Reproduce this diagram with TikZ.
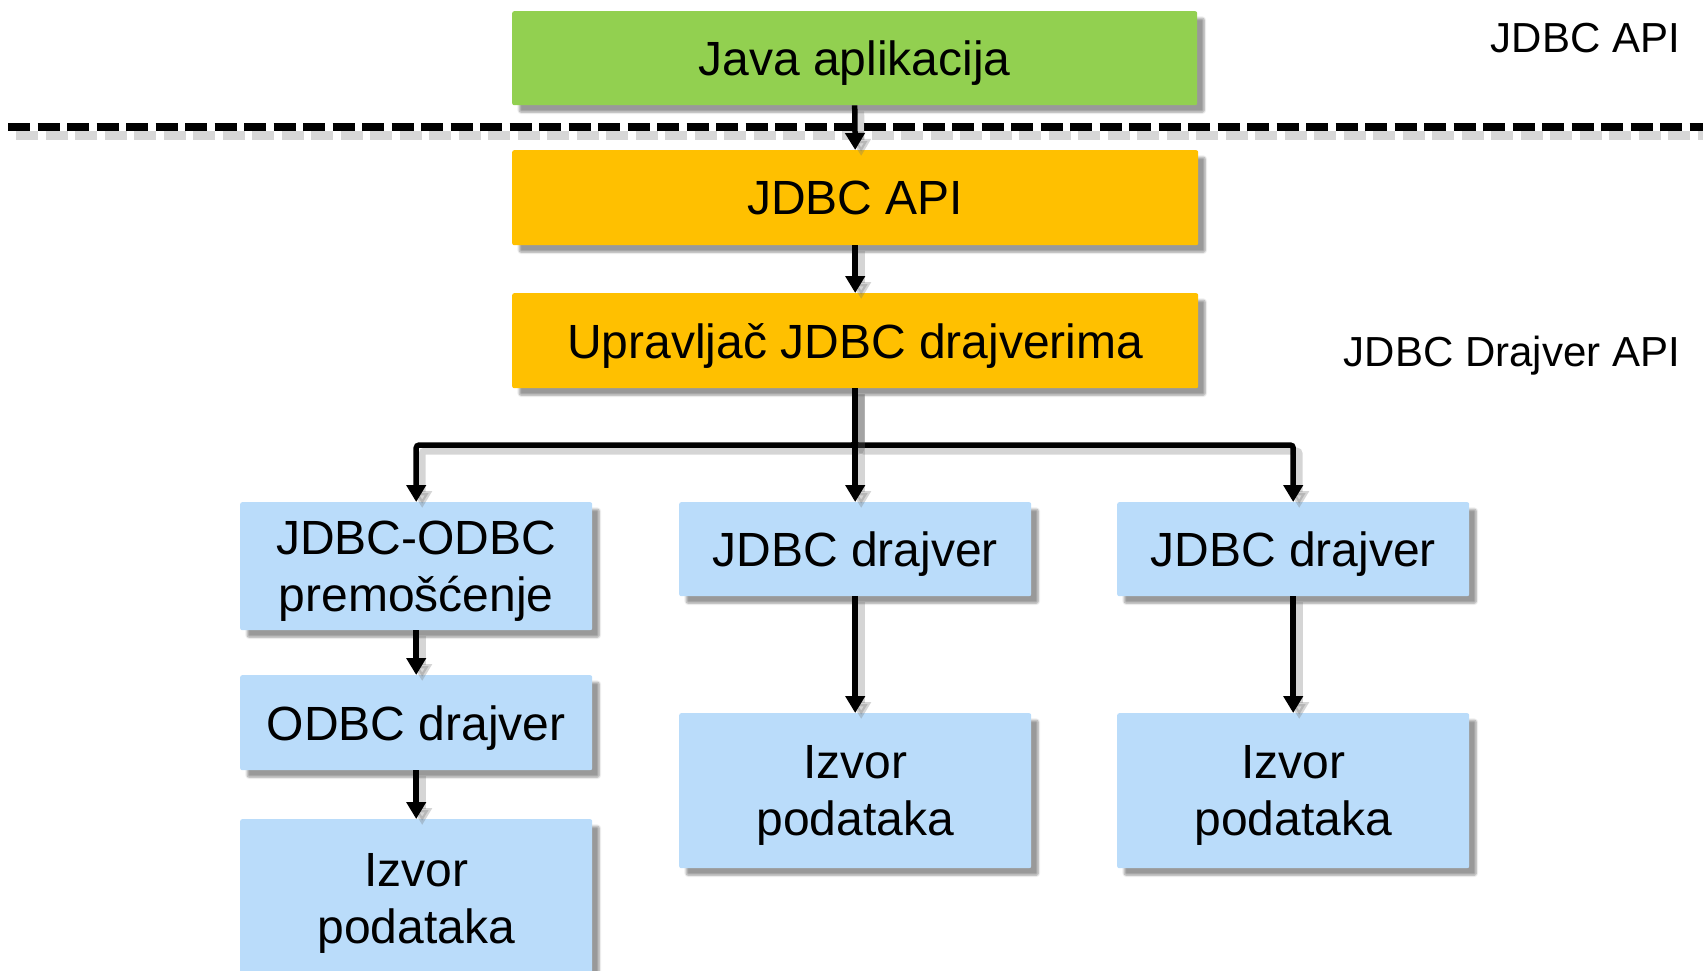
\documentclass[tikz,border=0pt]{standalone}
\usepackage{fontspec}
\setmainfont{Liberation Sans}
\usetikzlibrary{arrows.meta,shadows,shadows.blur}
\definecolor{appgreen}{HTML}{92D050}
\definecolor{apiorange}{HTML}{FFC000}
\definecolor{drvblue}{HTML}{BADCFA}
\tikzset{
  box/.style={draw=none, rounded corners=2pt, inner sep=0pt, align=center,
    text depth=0pt,
    font=\fontsize{48}{57}\selectfont,
    blur shadow={shadow xshift=7pt, shadow yshift=-7pt, shadow blur steps=8, shadow opacity=40}},
  greenbox/.style={box, fill=appgreen, minimum width=685pt, minimum height=94pt},
  orangebox/.style={box, fill=apiorange, minimum width=686pt, minimum height=95pt},
  bluebox/.style={box, fill=drvblue, minimum width=352pt},
  sidelabel/.style={font=\fontsize{42}{50}\selectfont, anchor=base east, inner sep=0pt},
  arr/.style={line width=5.5pt, rounded corners=3pt,
    -{Triangle[width=19pt,length=17pt]},
    preaction={draw=black!55, opacity=0.3, line width=7pt,
      transform canvas={xshift=6pt,yshift=-6pt}}},
  divider/.style={line width=7.3pt, dash pattern=on 22pt off 7.5pt,
    preaction={draw=black!45, opacity=0.35, line width=9pt, dash pattern=on 22pt off 7.5pt,
      transform canvas={xshift=8pt,yshift=-9pt}}}
}
\begin{document}
\begin{tikzpicture}[x=1pt,y=-1pt]
\useasboundingbox (0,0) rectangle (1703,971);
% dashed divider
\coordinate (dl) at (8,127);
\coordinate (dr) at (1710,127);
\draw[divider] (dl) -- (dr);
% boxes
\node[greenbox, anchor=north west] (app) at (512,11) {Java aplikacija};
\node[orangebox, anchor=north west] (api) at (512,150) {JDBC API};
\node[orangebox, anchor=north west] (mgr) at (512,293) {Upravljač JDBC drajverima};
\node[bluebox, minimum height=128pt, anchor=north west] (bridge) at (240,502) {JDBC-ODBC\\premošćenje};
\node[bluebox, minimum height=95pt, anchor=north west] (odbc) at (240,675) {ODBC drajver};
\node[bluebox, minimum height=158pt, anchor=north west] (src1) at (240,819) {Izvor\\podataka};
\node[bluebox, minimum height=94pt, anchor=north west] (drv2) at (679,502) {JDBC drajver};
\node[bluebox, minimum height=155pt, anchor=north west] (src2) at (679,713) {Izvor\\podataka};
\node[bluebox, minimum height=94pt, anchor=north west] (drv3) at (1117,502) {JDBC drajver};
\node[bluebox, minimum height=155pt, anchor=north west] (src3) at (1117,713) {Izvor\\podataka};
% side labels
\node[sidelabel] (lblapi) at (1680,53) {JDBC API};
\node[sidelabel] (lbldrv) at (1680,366) {JDBC Drajver API};
% connectors
\coordinate (br) at (855,445);
\draw[arr] (app.south) -- (api.north);
\draw[arr] (api.south) -- (mgr.north);
\draw[arr] (mgr.south) -- (br) -| (bridge.north);
\draw[arr] (mgr.south) -- (br) -| (drv3.north);
\draw[arr] (mgr.south) -- (drv2.north);
\draw[arr] (bridge.south) -- (odbc.north);
\draw[arr] (odbc.south) -- (src1.north);
\draw[arr] (drv2.south) -- (src2.north);
\draw[arr] (drv3.south) -- (src3.north);
\end{tikzpicture}
\end{document}
